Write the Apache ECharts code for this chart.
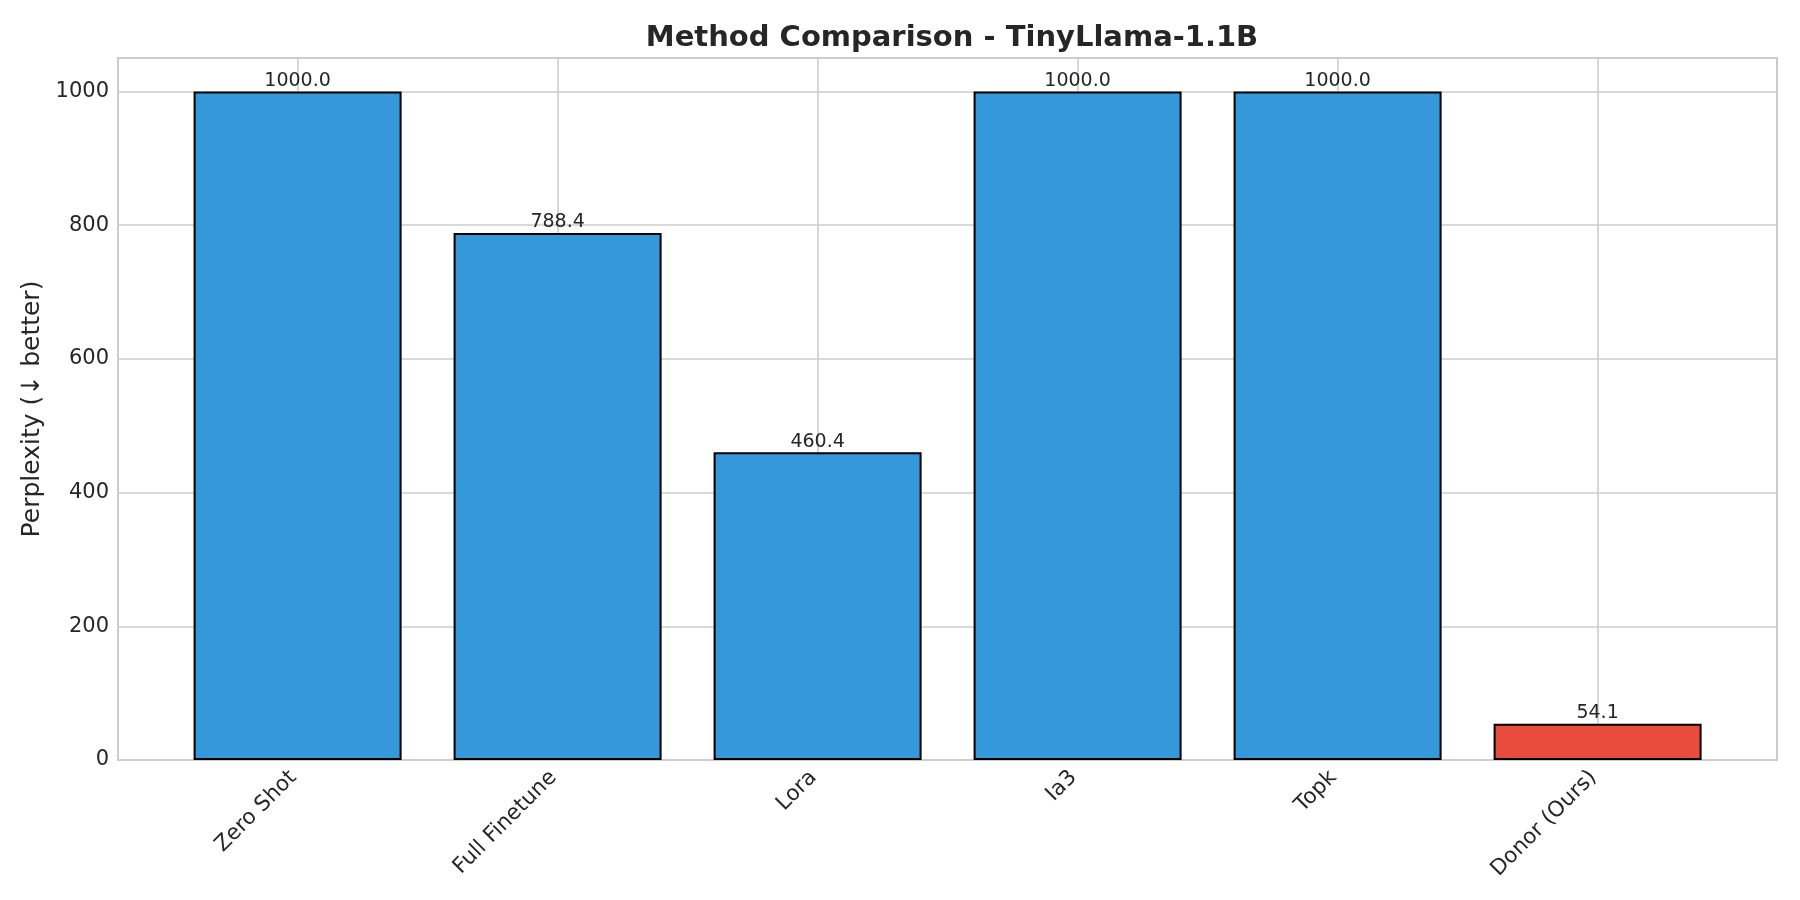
<!DOCTYPE html>
<html>
<head>
<meta charset="utf-8">
<script src="https://cdn.jsdelivr.net/npm/echarts@6/dist/echarts.min.js"></script>
<style>
html,body{margin:0;padding:0;background:#fff;}
#chart{width:1800px;height:900px;}
</style>
</head>
<body>
<div id="chart"></div>
<script>
const categories = ["Zero Shot", "Full Finetune", "Lora", "Ia3", "Topk", "Donor (Ours)"];
const perplexity = [1000.0, 788.4, 460.4, 1000.0, 1000.0, 54.1];
const yTicks = [0, 200, 400, 600, 800, 1000];

const FONT = "DejaVu Sans";
const TEXT = "#262626";
const BLUE = "#3498db";
const RED = "#e74c3c";

const chart = echarts.init(document.getElementById('chart'), null, {renderer: 'canvas'});

const barData = perplexity.map((v, i) => ({
  value: [i, v],
  itemStyle: { color: categories[i].indexOf('(Ours)') >= 0 ? RED : BLUE }
}));

const option = {
  backgroundColor: '#ffffff',
  animation: false,
  title: {
    text: 'Method Comparison - TinyLlama-1.1B',
    left: 947, textAlign: 'center',
    top: 19,
    textStyle: { fontFamily: FONT, fontSize: 29, fontWeight: 'bold', color: TEXT }
  },
  grid: [
    { left: 118, right: 23, top: 58, bottom: 140, show: true, borderColor: '#cccccc', borderWidth: 2, backgroundColor: '#ffffff' },
    { left: 297.6, right: 202.4, top: 58, bottom: 140 }
  ],
  xAxis: [
    { gridIndex: 0, type: 'value', min: 0, max: 1, show: false },
    {
      gridIndex: 1, type: 'value', min: 0, max: categories.length - 1, interval: 1,
      axisLine: { show: false }, axisTick: { show: false },
      splitLine: { show: true, lineStyle: { color: '#cccccc', width: 1.6 } },
      axisLabel: {
        rotate: 45, margin: 10, fontFamily: FONT, fontSize: 21.5, color: TEXT,
        padding: [0, 6, 0, 0],
        formatter: v => categories[Math.round(v)] || ''
      }
    }
  ],
  yAxis: [
    {
      gridIndex: 0, type: 'value', min: 0, max: 1050, interval: 200,
      name: 'Perplexity (↓ better)', nameLocation: 'middle', nameGap: 66,
      nameTextStyle: { fontFamily: FONT, fontSize: 25, color: TEXT },
      axisLine: { show: false }, axisTick: { show: false },
      splitLine: { show: true, lineStyle: { color: '#cccccc', width: 1.6 } },
      axisLabel: { showMaxLabel: false, margin: 9, fontFamily: FONT, fontSize: 21, color: TEXT,
        formatter: v => (yTicks.indexOf(v) >= 0 ? String(v) : '') }
    },
    { gridIndex: 1, type: 'value', min: 0, max: 1050, show: false }
  ],
  series: [{
    type: 'bar',
    xAxisIndex: 1, yAxisIndex: 1,
    data: barData,
    barWidth: 208,
    itemStyle: { borderColor: '#000000', borderWidth: 2 },
    label: {
      show: true, position: 'top', distance: 1,
      fontFamily: FONT, fontSize: 19, color: TEXT,
      formatter: p => p.value[1].toFixed(1)
    }
  }]
};
chart.setOption(option);
</script>
</body>
</html>
